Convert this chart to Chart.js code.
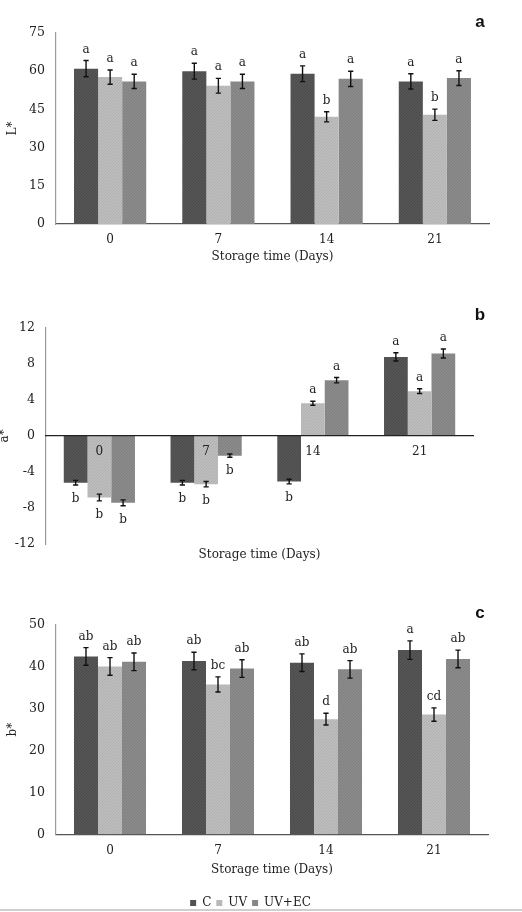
<!DOCTYPE html>
<html><head><meta charset="utf-8">
<script src="https://cdn.jsdelivr.net/npm/chart.js@4.4.1/dist/chart.umd.min.js"></script>
<style>
html,body{margin:0;padding:0;background:#fff;}
body{width:522px;height:912px;position:relative;overflow:hidden;}
.w{position:absolute;left:0;width:522px;}
#wa{top:0;height:290px}
#wb{top:290px;height:310px}
#wc{top:600px;height:330px}
#line{position:absolute;left:0;top:909px;width:522px;height:2px;background:#cfcfcf}
</style></head><body>
<div class="w" id="wa"><canvas id="ca" width="522" height="290" style="width:522px;height:290px"></canvas></div>
<div class="w" id="wb"><canvas id="cb" width="522" height="310" style="width:522px;height:310px"></canvas></div>
<div class="w" id="wc"><canvas id="cc" width="522" height="330" style="width:522px;height:330px"></canvas></div>
<div id="line"></div>
<script>
// ---- data ----
const days = ['0', '7', '14', '21'];
const seriesNames = ['C', 'UV', 'UV+EC'];

// L*
const L_C = [61.0, 60.0, 59.0, 56.0];
const L_UV = [57.7, 54.3, 42.1, 42.9];
const L_EC = [56.0, 56.0, 57.0, 57.3];
const L_C_err = [3.2, 3.1, 3.1, 3.0];
const L_UV_err = [2.8, 2.9, 2.0, 2.2];
const L_EC_err = [2.8, 2.8, 3.0, 2.9];
const L_C_let = ['a', 'a', 'a', 'a'];
const L_UV_let = ['a', 'a', 'b', 'b'];
const L_EC_let = ['a', 'a', 'a', 'a'];
const L_ticks = [0, 15, 30, 45, 60, 75];

// a*
const A_C = [-5.2, -5.2, -5.07, 8.76];
const A_UV = [-6.84, -5.36, 3.62, 4.96];
const A_EC = [-7.43, -2.2, 6.18, 9.13];
const A_C_err = [0.26, 0.25, 0.26, 0.46];
const A_UV_err = [0.37, 0.3, 0.22, 0.26];
const A_EC_err = [0.33, 0.18, 0.3, 0.5];
const A_C_let = ['b', 'b', 'b', 'a'];
const A_UV_let = ['b', 'b', 'a', 'a'];
const A_EC_let = ['b', 'b', 'a', 'a'];
const A_ticks = [-12, -8, -4, 0, 4, 8, 12];

// b*
const B_C = [42.5, 41.4, 41.0, 44.0];
const B_UV = [40.1, 35.8, 27.5, 28.6];
const B_EC = [41.2, 39.6, 39.4, 41.9];
const B_C_err = [2.1, 2.1, 2.1, 2.2];
const B_UV_err = [2.1, 1.8, 1.4, 1.6];
const B_EC_err = [2.1, 2.1, 2.1, 2.1];
const B_C_let = ['ab', 'ab', 'ab', 'a'];
const B_UV_let = ['ab', 'bc', 'd', 'cd'];
const B_EC_let = ['ab', 'ab', 'ab', 'ab'];
const B_ticks = [0, 10, 20, 30, 40, 50];

// ---- styles ----
const baseColors = ['#565656', '#bdbdbd', '#8b8b8b'];
const dotColors = ['#4a4a4a', '#b0b0b0', '#7f7f7f'];
const SERIF = "'DejaVu Serif', serif";
const TXT = '#222';

function stipple(base, dot) {
  const c = document.createElement('canvas');
  c.width = 3; c.height = 3;
  const x = c.getContext('2d');
  x.fillStyle = base; x.fillRect(0, 0, 3, 3);
  x.fillStyle = dot;
  x.fillRect(0, 0, 1, 1); x.fillRect(2, 1, 1, 1); x.fillRect(1, 2, 1, 1);
  return x.createPattern(c, 'repeat');
}
const fills = baseColors.map((b, i) => stipple(b, dotColors[i]));

const extras = {
  id: 'extras',
  afterDatasetsDraw(chart, args, o) {
    const ctx = chart.ctx, ys = chart.scales.y;
    chart.data.datasets.forEach((ds, i) => {
      const meta = chart.getDatasetMeta(i);
      meta.data.forEach((bar, j) => {
        const v = ds.data[j], e = ds.err[j];
        const yt = ys.getPixelForValue(v + e), yb = ys.getPixelForValue(v - e);
        ctx.save();
        ctx.strokeStyle = '#111'; ctx.lineWidth = 1.4;
        ctx.beginPath();
        ctx.moveTo(bar.x, yt); ctx.lineTo(bar.x, yb);
        ctx.moveTo(bar.x - 2.6, yt); ctx.lineTo(bar.x + 2.6, yt);
        ctx.moveTo(bar.x - 2.6, yb); ctx.lineTo(bar.x + 2.6, yb);
        ctx.stroke();
        ctx.fillStyle = TXT; ctx.font = '12px ' + SERIF;
        ctx.textAlign = 'center'; ctx.textBaseline = 'middle';
        const ly = v >= 0 ? yt - 11 : yb + 14;
        ctx.fillText(ds.letters[j], bar.x, ly);
        ctx.restore();
      });
    });
    ctx.save();
    ctx.fillStyle = '#111';
    ctx.textAlign = 'center'; ctx.textBaseline = 'middle';
    ctx.font = 'bold 17px "Liberation Sans", Arial, sans-serif';
    ctx.fillText(o.panel, 480, o.panelY);
    if (o.xTitle) {
      ctx.font = '12px ' + SERIF; ctx.fillStyle = TXT;
      const ca = chart.chartArea;
      ctx.fillText(o.xTitle, (ca.left + ca.right) / 2, o.xTitleY);
    }
    if (o.yTitle) {
      ctx.font = '12px ' + SERIF; ctx.fillStyle = TXT;
      const ca = chart.chartArea;
      ctx.translate(o.yTitleX, o.yTitleAtZero ? ys.getPixelForValue(0) : (ca.top + ca.bottom) / 2);
      ctx.rotate(-Math.PI / 2);
      ctx.fillText(o.yTitle, 0, 0);
    }
    ctx.restore();
  }
};

function datasets(vals, errs, lets) {
  return vals.map((v, i) => ({
    label: seriesNames[i], data: v, err: errs[i], letters: lets[i],
    backgroundColor: fills[i], borderWidth: 0,
    categoryPercentage: 0.667, barPercentage: 1.0
  }));
}

const tickFont = {family: SERIF, size: 12.5};
const xTickFont = {family: SERIF, size: 12};
const titleFont = {family: SERIF, size: 12};
const noGrid = {display: false, drawTicks: false};

// Panel a
new Chart(document.getElementById('ca'), {
  type: 'bar',
  data: {labels: days, datasets: datasets([L_C, L_UV, L_EC], [L_C_err, L_UV_err, L_EC_err], [L_C_let, L_UV_let, L_EC_let])},
  options: {
    responsive: false, animation: false,
    layout: {padding: {top: 33, right: 33, bottom: 26, left: 0}},
    plugins: {legend: {display: false}, tooltip: {enabled: false}, extras: {panel: 'a', panelY: 22}},
    scales: {
      x: {
        grid: noGrid, border: {color: '#555', width: 1.3},
        ticks: {font: xTickFont, color: TXT, padding: 9},
        title: {display: true, text: 'Storage time (Days)', font: titleFont, color: TXT, padding: {top: 0, bottom: 0}},
        afterFit(s) { s.height = 40; }
      },
      y: {
        min: 0, max: 75,
        afterBuildTicks(s) { s.ticks = L_ticks.map(v => ({value: v})); },
        grid: noGrid, border: {color: '#9a9a9a', width: 1.2},
        ticks: {font: tickFont, color: TXT, padding: 11},
        title: {display: true, text: 'L*', font: titleFont, color: TXT, padding: {top: 6, bottom: 0}},
        afterFit(s) { s.width = 56; }
      }
    }
  },
  plugins: [extras]
});

// Panel b
new Chart(document.getElementById('cb'), {
  type: 'bar',
  data: {labels: days, datasets: datasets([A_C, A_UV, A_EC], [A_C_err, A_UV_err, A_EC_err], [A_C_let, A_UV_let, A_EC_let])},
  options: {
    responsive: false, animation: false,
    layout: {padding: {top: 37.7, right: 49, bottom: 56, left: 0}},
    plugins: {legend: {display: false}, tooltip: {enabled: false},
      extras: {panel: 'b', panelY: 25.7, xTitle: 'Storage time (Days)', xTitleY: 264.5, yTitle: 'a*', yTitleX: 5, yTitleAtZero: true}},
    scales: {
      x: {
        position: {y: 0},
        grid: noGrid, border: {color: '#222', width: 1.3, z: 1},
        ticks: {font: xTickFont, color: TXT, padding: 9, z: 1}
      },
      y: {
        min: -12, max: 12,
        afterBuildTicks(s) { s.ticks = A_ticks.map(v => ({value: v})); },
        grid: noGrid, border: {color: '#9a9a9a', width: 1.2},
        ticks: {font: tickFont, color: TXT, padding: 11},
        afterFit(s) { s.width = 46; }
      }
    }
  },
  plugins: [extras]
});

// Panel c
new Chart(document.getElementById('cc'), {
  type: 'bar',
  data: {labels: days, datasets: datasets([B_C, B_UV, B_EC], [B_C_err, B_UV_err, B_EC_err], [B_C_let, B_UV_let, B_EC_let])},
  options: {
    responsive: false, animation: false,
    layout: {padding: {top: 25, right: 34, bottom: 11, left: 13}},
    plugins: {
      legend: {display: true, position: 'bottom',
        labels: {boxWidth: 6, boxHeight: 6, padding: 5, font: {family: SERIF, size: 12}, color: TXT}},
      tooltip: {enabled: false}, extras: {panel: 'c', panelY: 13, yTitle: 'b*', yTitleX: 13}
    },
    scales: {
      x: {
        grid: noGrid, border: {color: '#555', width: 1.3},
        ticks: {font: xTickFont, color: TXT, padding: 9},
        title: {display: true, text: 'Storage time (Days)', font: titleFont, color: TXT, padding: {top: 0, bottom: 15}},
        afterFit(s) { s.height = 57.7; }
      },
      y: {
        min: 0, max: 50,
        afterBuildTicks(s) { s.ticks = B_ticks.map(v => ({value: v})); },
        grid: noGrid, border: {color: '#9a9a9a', width: 1.2},
        ticks: {font: tickFont, color: TXT, padding: 11},
        afterFit(s) { s.width = 43; }
      }
    }
  },
  plugins: [extras]
});
</script>
</body></html>
